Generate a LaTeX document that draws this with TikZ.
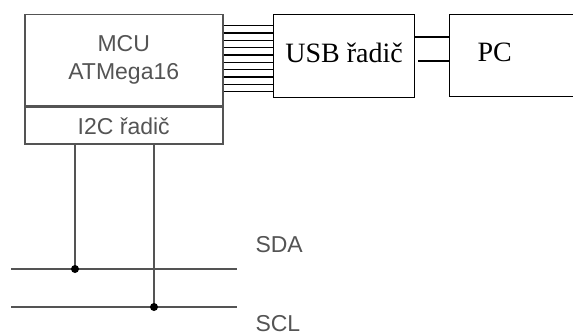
\documentclass[tikz,border=0pt]{standalone}
\usepackage{fontspec}
\setmainfont{Liberation Serif}
\setsansfont{Liberation Sans}
\usetikzlibrary{positioning, calc}
\definecolor{wiregray}{rgb}{0.33, 0.33, 0.33}

\begin{document}
\begin{tikzpicture}[x=1pt, y=1pt]
% Define styles
\tikzset{mcu box/.style={draw=wiregray, line width=1.5pt, text=wiregray, inner sep=0pt,
    font=\sffamily\fontsize{23}{28}\selectfont, align=center},
  usb box/.style={draw, line width=1.2pt, inner sep=0pt, font=\fontsize{28}{32}\selectfont},
  bus line/.style={line width=1.1pt},
  i2c line/.style={wiregray, line width=1.4pt},
  bus label/.style={text=wiregray, font=\sffamily\fontsize{23}{28}\selectfont, anchor=base west}}

% Parameters
\def\buswires{9} % number of data wires minus one
\def\busstep{7.33} % spacing of the data wires

\useasboundingbox (0,0) rectangle (573,335);
\clip (0,0) rectangle (573,335);

% Microcontroller
\node[mcu box, minimum width=198pt, minimum height=91pt, anchor=north west] (mcu) at (24,321) {MCU\\ATMega16};
\node[mcu box, minimum width=198pt, minimum height=37pt, below=0pt of mcu] (i2c) {I2C řadič};

% USB controller and PC
\node[usb box, minimum width=141pt, minimum height=83pt, text depth=6pt, anchor=north west] (usb) at (273,321) {USB řadič};
\node[usb box, minimum width=160pt, minimum height=82pt, anchor=north west] (pc) at (449,321) {};
\node[usb box, draw=none, anchor=base west] (pctext) at (477,273) {PC};

% Parallel bus
\foreach \i in {0,...,\buswires} {
  \pgfmathsetmacro{\wirey}{309.3-\i*\busstep}
  \draw[bus line] (mcu.east |- 0,\wirey) -- (usb.west |- 0,\wirey);
}

% USB to PC
\coordinate (usbgap) at ([xshift=3pt]usb.east);
\draw[bus line] (usb.east |- 0,298) -- (pc.west |- 0,298);
\draw[bus line] (usbgap |- 0,274) -- (pc.west |- 0,274);

% I2C bus
\coordinate (sdaW) at (11,66);
\coordinate (sdaE) at (237,66);
\coordinate (sclW) at (11,28);
\coordinate (sclE) at (237,28);
\coordinate (sdaTap) at (75,66);
\coordinate (sclTap) at (154,28);
\draw[i2c line] (sdaW) -- (sdaE);
\draw[i2c line] (sclW) -- (sclE);
\draw[i2c line] (i2c.south -| sdaTap) -- (sdaTap);
\draw[i2c line] (i2c.south -| sclTap) -- (sclTap);
\fill (sdaTap) circle (4pt);
\fill (sclTap) circle (4pt);
\node[bus label] (sda) at (252,82) {SDA};
\node[bus label] (scl) at (252,4) {SCL};
\end{tikzpicture}
\end{document}
